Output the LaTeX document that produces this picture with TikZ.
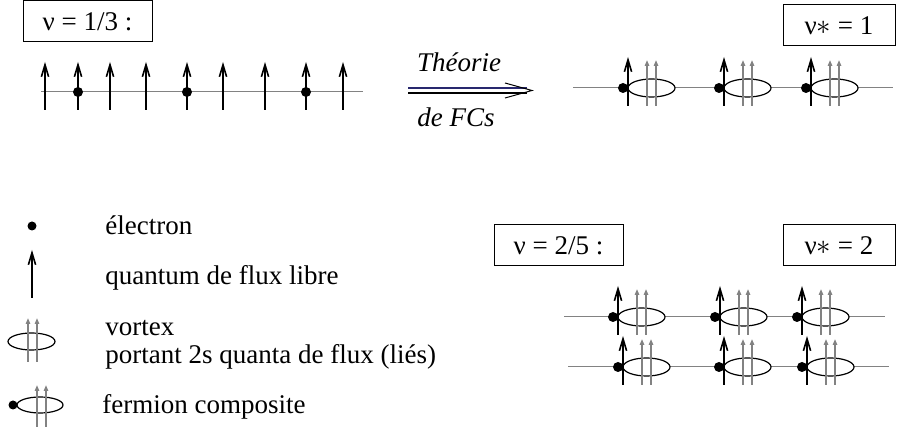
\documentclass[tikz,border=0pt]{standalone}
\usepackage{fontspec}
\setmainfont{Liberation Serif}
\usepackage{xcolor}
\usetikzlibrary{arrows.meta,positioning}

\definecolor{fcblue}{RGB}{40,40,110}
\definecolor{fluxgray}{RGB}{130,130,130}

\begin{document}
\begin{tikzpicture}[x=0.5pt, y=-0.5pt, every node/.style={font=\fontsize{13.5}{16}\selectfont}]
  \tikzstyle{nubox} = [rectangle, draw, line width=0.5pt, minimum height=20.5pt, inner sep=0pt]
  \tikzstyle{legend} = [anchor=base west, inner sep=0pt]
  \tikzstyle{axis} = [draw, fluxgray, line width=0.5pt]
  \tikzstyle{freeflux} = [draw, line width=0.8pt, -{Straight Barb[length=6pt,width=3.6pt]}]
  \tikzstyle{boundflux} = [draw, fluxgray, line width=0.8pt, -{Triangle[length=3pt,width=2.2pt]}]
  \tikzstyle{vortex} = [draw, fill=white, line width=0.6pt]

  \useasboundingbox (0,0) rectangle (904,431);

  % Boxes
  \node[nubox, minimum width=64.5pt] (nu13) at (87.5,21.5) {ν = 1/3 :};
  \node[nubox, minimum width=56pt] (nustar1) at (839,25.5) {ν$\ast$ = 1};
  \node[nubox, minimum width=64.5pt] (nu25) at (558.5,245.5) {ν = 2/5 :};
  \node[nubox, minimum width=56pt] (nustar2) at (839,245.5) {ν$\ast$ = 2};

  % Electrons and free flux, nu = 1/3
  \draw[axis] (41,92) -- (363,92);
  \foreach \x in {45,78,110,146,187,223,265,306,343}
    \draw[freeflux] (\x,110) -- (\x,62);
  \foreach \x in {78,187,306}
    \fill (\x,92) circle (2.5pt);

  % Theorie de FCs
  \node[font=\fontsize{13.5}{16}\selectfont\itshape] (theorie) at (459,62) {Théorie};
  \node[font=\fontsize{13.5}{16}\selectfont\itshape] (defcs) at (456,117) {de FCs};
  \coordinate (fcstart) at (408,90.5);
  \coordinate (fctip) at (532,90.5);
  \draw[fcblue, line width=0.8pt] ([yshift=1.25pt]fcstart) -- ++(119,0);
  \draw[line width=0.8pt] ([yshift=-1.25pt]fcstart) -- ++(119,0);
  \draw[line width=0.5pt] (505,83) -- (fctip) -- (505,98);

  % Composite fermions
  \draw[axis] (573,88) -- (893,88);
  \draw[axis] (564,317) -- (885,317);
  \draw[axis] (568,367) -- (889,367);
  \foreach \d/\y in {623/88, 719/88, 806/88, 613/317, 715/317, 797/317, 618/367, 719/367, 802/367} {
    \draw[vortex] (\d+28.5,\y) ellipse [x radius=11.75pt, y radius=4.5pt];
    \fill (\d,\y) circle (2.5pt);
    \draw[freeflux] (\d+5,\y+18) -- (\d+5,\y-31);
    \draw[boundflux] (\d+24,\y+18) -- (\d+24,\y-28);
    \draw[boundflux] (\d+33,\y+18) -- (\d+33,\y-28);
  }

  % Legend
  \fill (32,226) circle (2.25pt);
  \draw[freeflux] (32,298) -- (32,250);
  \draw[vortex] (31.5,341.5) ellipse [x radius=11.75pt, y radius=4.25pt];
  \draw[boundflux] (28,362) -- (28,318);
  \draw[boundflux] (37,362) -- (37,318);
  \draw[vortex] (40,405) ellipse [x radius=11.5pt, y radius=4pt];
  \fill (13,405) circle (2.25pt);
  \draw[boundflux] (37,427) -- (37,385);
  \draw[boundflux] (46,427) -- (46,385);

  \node[legend] (lelec) at (105,235) {électron};
  \node[legend] (lflux) at (105,285) {quantum de flux libre};
  \node[legend] (lvortex) at (105,336) {vortex};
  \node[legend] (lporte) at (105,364) {portant 2s quanta de flux (liés)};
  \node[legend] (lfc) at (102,414) {fermion composite};
\end{tikzpicture}
\end{document}
